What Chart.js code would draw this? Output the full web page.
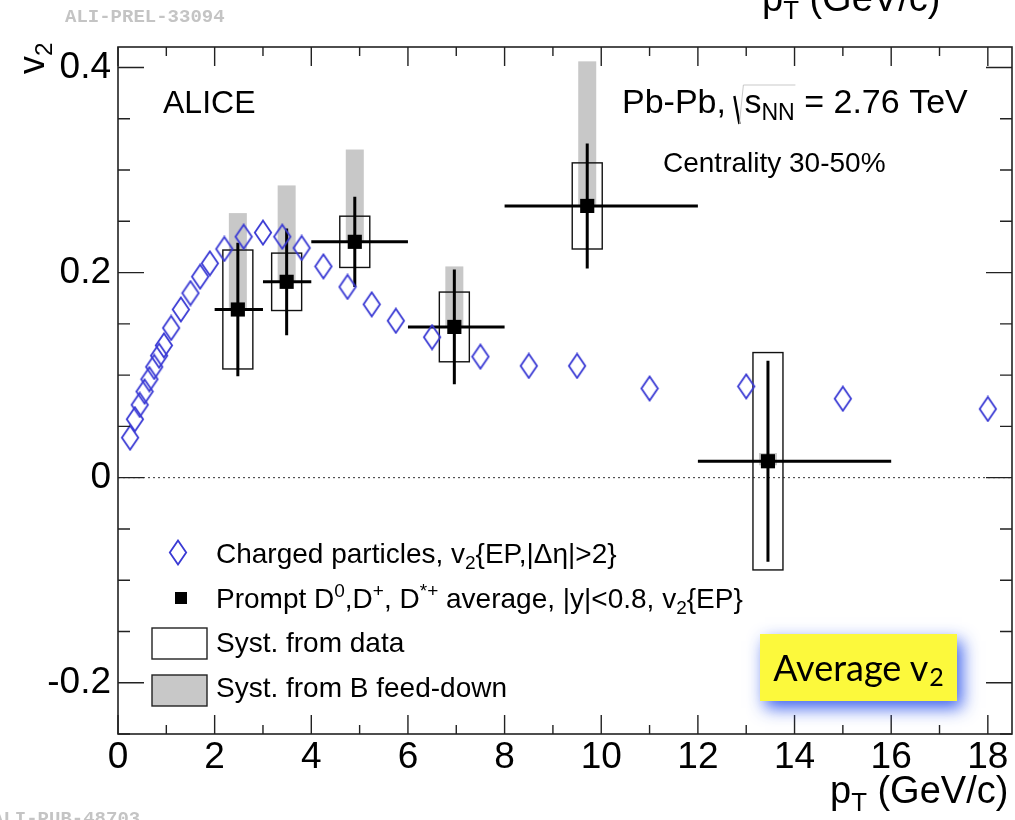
<!DOCTYPE html>
<html>
<head>
<meta charset="utf-8">
<script src="https://cdn.jsdelivr.net/npm/chart.js@4.4.1/dist/chart.umd.min.js"></script>
<style>
  body { margin: 0; background: #fff; overflow: hidden; width: 1015px; height: 820px; position: relative; }
  #c { position: absolute; left: 0; top: 0; }
  .stamp { position: absolute; font: bold 19px "Liberation Mono", monospace; color: #c4c4c4; white-space: nowrap; }
  #avg {
    position: absolute; left: 760px; top: 634px; width: 197px; height: 67px;
    background: #fcf93c; box-shadow: 5px 7px 16px rgba(40, 80, 235, 0.9);
    font: 36px Lato, "Open Sans", sans-serif; color: #000;
    text-align: center; line-height: 67px; white-space: nowrap;
  }
  #avg span { font-size: 25px; position: relative; top: 5px; margin-left: 1px; }
</style>
</head>
<body>
<canvas id="c" width="1015" height="820"></canvas>
<div class="stamp" style="left:65px; top:6px">ALI-PREL-33094</div>
<div class="stamp" style="left:-8px; top:808px">ALI-PUB-48703</div>
<div id="avg">Average v<span>2</span></div>
<script>
// charged particles v2{EP,|deta|>2}
const chPt = [0.25, 0.35, 0.45, 0.55, 0.65, 0.75, 0.85, 0.95, 1.1, 1.3, 1.5, 1.7, 1.9, 2.2, 2.6, 3.0, 3.4, 3.8, 4.25, 4.75, 5.25, 5.75, 6.5, 7.5, 8.5, 9.5, 11, 13, 15, 18];
const chV2 = [0.039, 0.057, 0.071, 0.084, 0.096, 0.108, 0.119, 0.129, 0.146, 0.164, 0.180, 0.196, 0.209, 0.223, 0.235, 0.239, 0.235, 0.224, 0.206, 0.186, 0.169, 0.153, 0.137, 0.118, 0.109, 0.109, 0.087, 0.089, 0.077, 0.067];

// prompt D average
const dPt = [2.48, 3.49, 4.9, 6.96, 9.71, 13.45];
const dV2 = [0.164, 0.191, 0.230, 0.147, 0.265, 0.016];
const dBinLo = [2, 3, 4, 6, 8, 12];
const dBinHi = [3, 4, 6, 8, 12, 16];
const dStat = [0.065, 0.052, 0.044, 0.056, 0.061, 0.098];
const dSysData = [0.058, 0.028, 0.025, 0.034, 0.042, 0.106];
const dSysFeedUp = [0.094, 0.094, 0.090, 0.059, 0.141, 0.008];

const xMajor = [0, 2, 4, 6, 8, 10, 12, 14, 16, 18];
const yMajor = [-0.2, 0, 0.2, 0.4];

const SANS = '"Liberation Sans", Arial, Helvetica, sans-serif';
const BLUE = '#3a3ad4';

// open diamond marker
const dia = document.createElement('canvas');
dia.width = 20; dia.height = 27;
(function () {
  const g = dia.getContext('2d');
  g.strokeStyle = BLUE; g.lineWidth = 1.8;
  g.beginPath();
  g.moveTo(10, 1.5); g.lineTo(18.2, 13.5); g.lineTo(10, 25.5); g.lineTo(1.8, 13.5);
  g.closePath(); g.stroke();
})();

// text with sub/superscripts
function rich(ctx, x, y, parts, size) {
  for (const [t, m] of parts) {
    const s = m ? size * 0.68 : size;
    const dy = m === 'sup' ? -size * 0.38 : m === 'sub' ? size * 0.22 : 0;
    ctx.font = s + 'px ' + SANS;
    ctx.fillText(t, x, y + dy);
    x += ctx.measureText(t).width;
  }
  return x;
}

const near = (v, step) => Math.abs(v / step - Math.round(v / step)) < 1e-6;

const rootStyle = {
  id: 'rootStyle',
  beforeDatasetsDraw(chart) {
    const { ctx, chartArea: a, scales: { x, y } } = chart;
    ctx.save();
    // dotted zero line
    ctx.strokeStyle = '#333'; ctx.lineWidth = 1; ctx.setLineDash([2, 3]);
    ctx.beginPath(); ctx.moveTo(a.left, y.getPixelForValue(0)); ctx.lineTo(a.right, y.getPixelForValue(0)); ctx.stroke();
    ctx.setLineDash([]);
    for (let i = 0; i < dPt.length; i++) {
      const px = x.getPixelForValue(dPt[i]);
      const py = y.getPixelForValue(dV2[i]);
      // B feed-down (grey, upward)
      const fTop = y.getPixelForValue(dV2[i] + dSysFeedUp[i]);
      ctx.fillStyle = '#c8c8c8';
      ctx.fillRect(px - 9, fTop, 18, py - fTop + (i === 5 ? 4 : 0));
      // data syst (open box)
      const sTop = y.getPixelForValue(dV2[i] + dSysData[i]);
      const sBot = y.getPixelForValue(dV2[i] - dSysData[i]);
      ctx.strokeStyle = '#111'; ctx.lineWidth = 1.4;
      ctx.strokeRect(px - 15, sTop, 30, sBot - sTop);
      // stat error bars + bin width
      ctx.lineWidth = 3; ctx.strokeStyle = '#000';
      ctx.beginPath();
      ctx.moveTo(px, y.getPixelForValue(dV2[i] + dStat[i]));
      ctx.lineTo(px, y.getPixelForValue(dV2[i] - dStat[i]));
      ctx.moveTo(x.getPixelForValue(dBinLo[i]), py);
      ctx.lineTo(x.getPixelForValue(dBinHi[i]), py);
      ctx.stroke();
    }
    ctx.restore();
  },
  afterDraw(chart) {
    const { ctx, chartArea: a, scales: { x, y } } = chart;
    ctx.save();
    // frame
    ctx.strokeStyle = '#222'; ctx.lineWidth = 1.6;
    ctx.strokeRect(a.left, a.top, a.right - a.left, a.bottom - a.top);
    // inward ticks
    ctx.lineWidth = 1.4;
    ctx.beginPath();
    x.ticks.forEach(t => {
      if (!near(t.value, 1)) return;
      const px = x.getPixelForValue(t.value);
      const len = near(t.value, 2) ? 19 : 9;
      ctx.moveTo(px, a.bottom); ctx.lineTo(px, a.bottom - len);
      ctx.moveTo(px, a.top); ctx.lineTo(px, a.top + len);
    });
    y.ticks.forEach(t => {
      if (!near(t.value, 0.05)) return;
      const py = y.getPixelForValue(t.value);
      const len = near(t.value, 0.2) ? 26 : 12;
      ctx.moveTo(a.left, py); ctx.lineTo(a.left + len, py);
      ctx.moveTo(a.right, py); ctx.lineTo(a.right - len, py);
    });
    ctx.stroke();

    ctx.fillStyle = '#000';
    ctx.textBaseline = 'alphabetic';
    ctx.textAlign = 'left';
    // labels inside the frame
    rich(ctx, 163, 113, [['ALICE', '']], 32);
    let sx = rich(ctx, 622, 113, [['Pb-Pb, ', '']], 34);
    ctx.strokeStyle = '#000'; ctx.lineWidth = 2.4;
    ctx.beginPath(); ctx.moveTo(sx - 1, 96); ctx.lineTo(sx + 4, 124); ctx.stroke();
    ctx.strokeStyle = '#bbb'; ctx.lineWidth = 0.8;
    ctx.beginPath(); ctx.moveTo(sx + 4, 124); ctx.lineTo(sx + 8, 85); ctx.lineTo(sx + 60, 85); ctx.stroke();
    rich(ctx, sx + 9, 113, [['s', ''], ['NN', 'sub'], [' = 2.76 TeV', '']], 34);
    rich(ctx, 663, 172, [['Centrality 30-50%', '']], 28);

    // legend
    ctx.drawImage(dia, 168, 539);
    ctx.fillRect(175, 592, 12, 12);
    ctx.strokeStyle = '#222'; ctx.lineWidth = 1.4;
    ctx.strokeRect(152, 628, 55, 31);
    ctx.fillStyle = '#c8c8c8'; ctx.fillRect(152, 675, 55, 31);
    ctx.strokeRect(152, 675, 55, 31);
    ctx.fillStyle = '#000';
    rich(ctx, 216, 563, [['Charged particles, v', ''], ['2', 'sub'], ['{EP,|\u0394\u03b7|>2}', '']], 28);
    rich(ctx, 216, 608, [['Prompt D', ''], ['0', 'sup'], [',D', ''], ['+', 'sup'], [', D', ''], ['*+', 'sup'], [' average, |y|<0.8, v', ''], ['2', 'sub'], ['{EP}', '']], 28);
    rich(ctx, 216, 652, [['Syst. from data', '']], 28);
    rich(ctx, 216, 697, [['Syst. from B feed-down', '']], 28);

    // axis titles
    rich(ctx, 830, 803, [['p', ''], ['T', 'sub'], [' (GeV/c)', '']], 38);
    rich(ctx, 762, 11, [['p', ''], ['T', 'sub'], [' (GeV/c)', '']], 38);
    ctx.translate(44, 74);
    ctx.rotate(-Math.PI / 2);
    rich(ctx, 0, 0, [['v', ''], ['2', 'sub']], 36);
    ctx.restore();
  }
};

new Chart(document.getElementById('c'), {
  type: 'scatter',
  data: {
    datasets: [
      {
        label: 'Charged particles',
        data: chPt.map((p, i) => ({ x: p, y: chV2[i] })),
        pointStyle: dia,
        order: 2
      },
      {
        label: 'Prompt D',
        data: dPt.map((p, i) => ({ x: p, y: dV2[i] })),
        pointStyle: 'rect',
        pointRadius: 10,
        backgroundColor: '#000',
        borderColor: '#000',
        borderWidth: 0,
        order: 1
      }
    ]
  },
  options: {
    responsive: false,
    animation: false,
    events: [],
    layout: { autoPadding: false, padding: { left: 0, top: 47, right: 3, bottom: 0 } },
    plugins: { legend: { display: false }, tooltip: { enabled: false } },
    scales: {
      x: {
        type: 'linear', min: 0, max: 18.5,
        grid: { display: false, drawTicks: false },
        border: { display: false },
        afterFit: s => { s.height = 86; s.paddingLeft = 0; s.paddingRight = 0; },
        ticks: {
          stepSize: 1, autoSkip: false, maxRotation: 0, padding: 2, includeBounds: false,
          color: '#000', font: { family: SANS, size: 37 },
          callback: v => xMajor.some(m => Math.abs(m - v) < 1e-6) ? String(Math.round(v)) : ''
        }
      },
      y: {
        type: 'linear', min: -0.25, max: 0.42,
        grid: { display: false, drawTicks: false },
        border: { display: false },
        afterFit: s => { s.width = 118; s.paddingTop = 0; s.paddingBottom = 0; },
        ticks: {
          stepSize: 0.05, autoSkip: false, padding: 7, includeBounds: false,
          color: '#000', font: { family: SANS, size: 37 },
          callback: v => {
            const m = yMajor.find(t => Math.abs(t - v) < 1e-6);
            return m === undefined ? '' : (m === 0 ? '0' : m.toFixed(1));
          }
        }
      }
    }
  },
  plugins: [rootStyle]
});
</script>
</body>
</html>
